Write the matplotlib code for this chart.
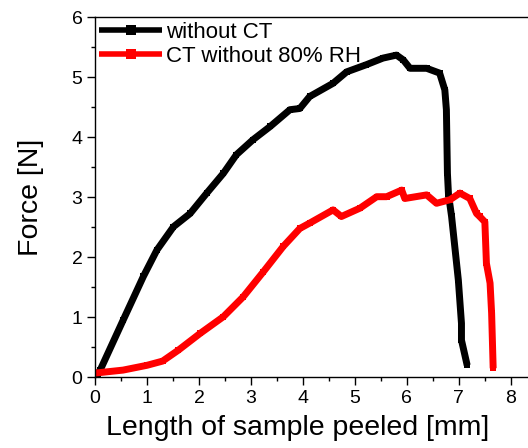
import matplotlib
matplotlib.use("Agg")
import matplotlib.pyplot as plt
from matplotlib.ticker import MultipleLocator

plt.rcParams['font.family'] = ['Liberation Sans', 'DejaVu Sans']

# without CT (black)
x_black = [0.05, 0.10, 0.54, 0.93, 1.19, 1.51, 1.83, 2.15, 2.47, 2.72, 3.04, 3.37,
           3.75, 3.94, 4.13, 4.58, 4.84, 5.22, 5.54, 5.80, 5.93, 6.06, 6.38, 6.63,
           6.73, 6.76, 6.78, 6.80, 6.86, 6.99, 7.05, 7.05, 7.16]
y_black = [0.05, 0.12, 0.95, 1.68, 2.12, 2.51, 2.73, 3.07, 3.40, 3.71, 3.96, 4.18,
           4.46, 4.48, 4.68, 4.90, 5.09, 5.21, 5.32, 5.37, 5.29, 5.15, 5.15, 5.07,
           4.79, 4.46, 3.40, 3.05, 2.68, 1.62, 0.90, 0.62, 0.20]

# CT without 80% RH (red)
x_red = [0.00, 0.54, 1.00, 1.30, 1.60, 2.02, 2.47, 2.85, 3.24, 3.62, 3.94, 4.13, 4.58,
         4.74, 5.10, 5.42, 5.61, 5.90, 5.96, 6.38, 6.57, 6.83, 7.02, 7.21, 7.34,
         7.40, 7.50, 7.53, 7.60, 7.63, 7.66]
y_red = [0.07, 0.12, 0.20, 0.27, 0.45, 0.73, 1.01, 1.34, 1.76, 2.18, 2.48, 2.57, 2.79,
         2.68, 2.82, 3.01, 3.01, 3.12, 2.98, 3.04, 2.90, 2.96, 3.07, 2.98, 2.73,
         2.68, 2.59, 1.90, 1.57, 1.07, 0.15]

labels = ["without CT", "CT without 80% RH"]

fig = plt.figure(figsize=(5.28, 4.48), dpi=100)
ax = fig.add_axes([95/528, 1-377.3/448, 1-95/528, (377.3-17.3)/448])

ax.plot(x_black, y_black, color='black', lw=5, marker='s', ms=5, mew=0,
        label=labels[0], solid_joinstyle='round', solid_capstyle='butt')
ax.plot(x_red, y_red, color='#ff0000', lw=5, marker='s', ms=5, mew=0,
        label=labels[1], solid_joinstyle='round', solid_capstyle='butt')

ax.set_xlim(0, 8.33)
ax.set_ylim(0, 6)
ax.xaxis.set_major_locator(MultipleLocator(1))
ax.xaxis.set_minor_locator(MultipleLocator(0.5))
ax.yaxis.set_major_locator(MultipleLocator(1))
ax.yaxis.set_minor_locator(MultipleLocator(0.5))
ax.tick_params(which='major', direction='out', length=6, width=1, labelsize=14, pad=3)
ax.tick_params(which='minor', direction='out', length=3, width=1)
ax.spines['right'].set_visible(False)
for s in ['left', 'bottom', 'top']:
    ax.spines[s].set_linewidth(1)

ax.set_xlabel("Length of sample peeled [mm]", fontsize=20.5)
ax.xaxis.set_label_coords(0.467, -0.105, transform=ax.transAxes)
ax.xaxis.label.set_verticalalignment('top')
ax.set_ylabel("Force [N]", fontsize=20.5, labelpad=20)

leg = ax.legend(loc='upper left', frameon=False, fontsize=16, handlelength=2.8,
                handletextpad=0.2, labelspacing=0.15, borderaxespad=0.1,
                borderpad=0.1, markerscale=1.3)
for h in leg.legend_handles:
    h.set_linewidth(4)

fig.savefig("out.png", dpi=100)
